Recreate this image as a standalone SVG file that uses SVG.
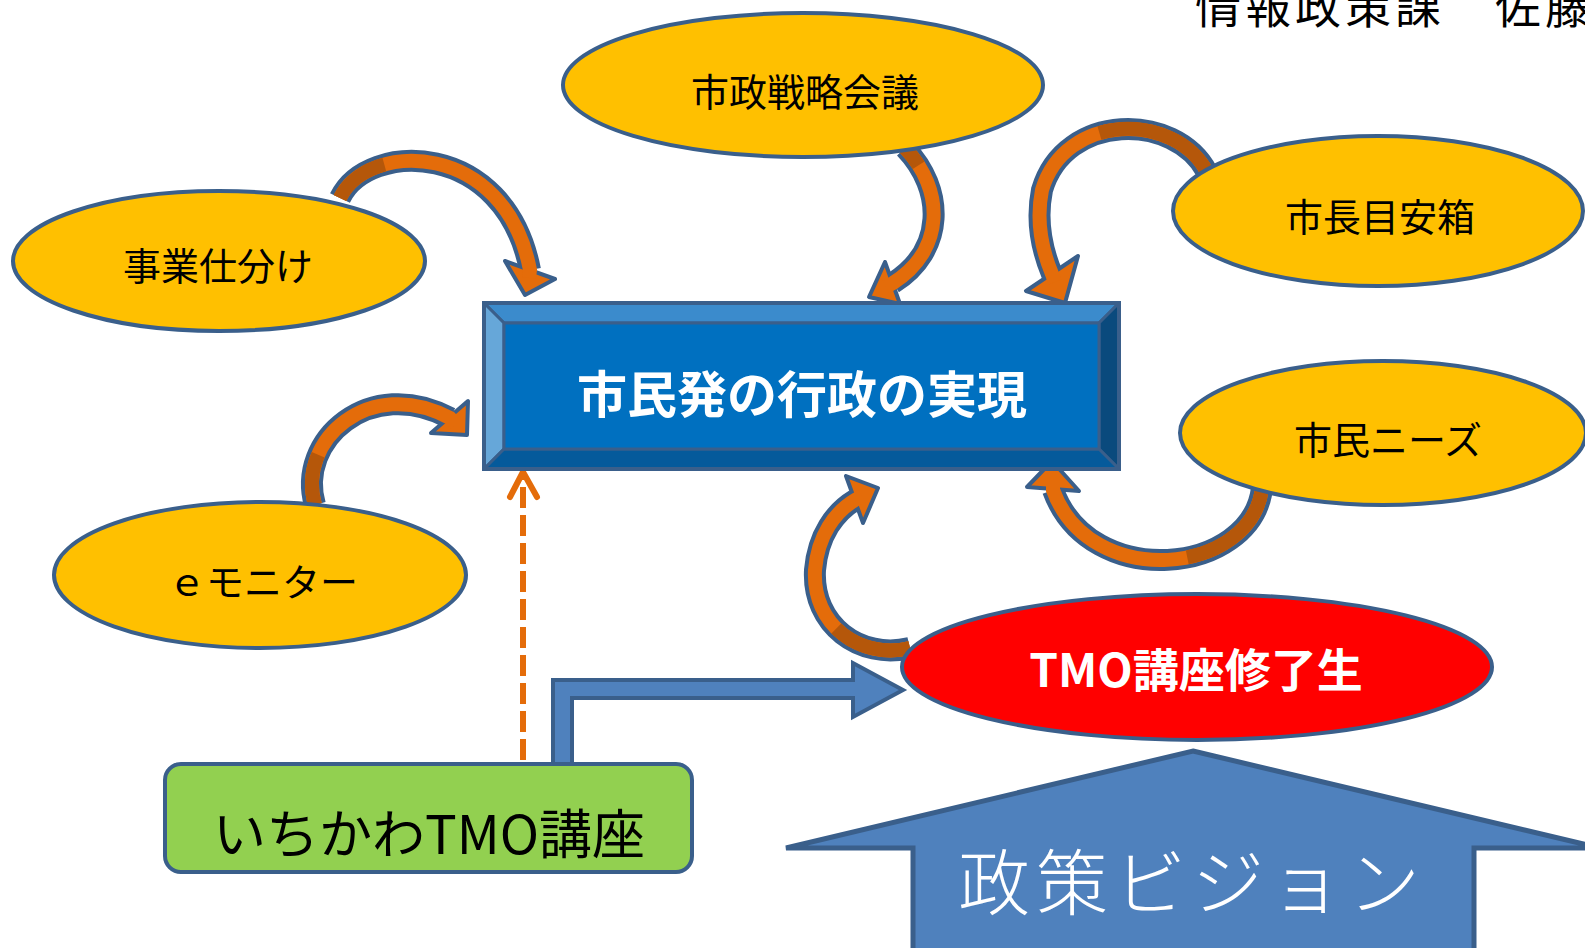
<svg xmlns="http://www.w3.org/2000/svg" width="1585" height="948" viewBox="0 0 1585 948">
<defs>
<style>
.ell{fill:#FFC000;stroke:#3A5F8B;stroke-width:4}
.lbl{font-family:"Noto Sans CJK JP","Noto Sans",sans-serif;font-size:38px;fill:#000;text-anchor:middle;dominant-baseline:central}
.ol{fill:none;stroke:#3A5F8B;stroke-width:22}
.lt{fill:none;stroke:#E46C0A;stroke-width:14}
.dk{fill:none;stroke:#B5570A;stroke-width:14}
.hd{fill:#E46C0A;stroke:#3A5F8B;stroke-width:4;stroke-linejoin:round}
.bv{stroke:#3A5F8B;stroke-width:3;stroke-linejoin:round}
</style>
</defs>
<rect width="1585" height="948" fill="#fff"/>
<text x="1195" y="23" style="font-family:'Noto Sans CJK JP',sans-serif;font-size:46px;letter-spacing:4px" fill="#000">情報政策課　佐藤</text>

<g id="connectors">
  <!-- 事業仕分け -> box -->
  <path class="ol" d="M340 198 C368 140 505 140 530 270"/>
  <polygon class="hd" points="505,261 525,295 555,279"/>
  <path class="lt" d="M340 198 C368 140 505 140 530 270 L529 278"/>
  <path class="dk" pathLength="100" stroke-dasharray="22 200" d="M340 198 C368 140 505 140 530 270"/>

  <!-- 市政戦略会議 -> box -->
  <path class="ol" d="M905 148 C945 190 945 250 893 283"/>
  <polygon class="hd" points="885,262 869,297 900,304"/>
  <path class="lt" d="M905 148 C945 190 945 250 893 283 L886 287"/>
  <path class="dk" pathLength="100" stroke-dasharray="14 200" d="M905 148 C945 190 945 250 893 283"/>

  <!-- 市長目安箱 -> box -->
  <path class="ol" d="M1207 172 C1175 112 1065 112 1042 190 C1036 220 1042 250 1052 274"/>
  <polygon class="hd" points="1026,291 1065,303 1078,256"/>
  <path class="lt" d="M1207 172 C1175 112 1065 112 1042 190 C1036 220 1042 250 1052 274 L1055 282"/>
  <path class="dk" pathLength="100" stroke-dasharray="42 200" d="M1207 172 C1175 112 1065 112 1042 190 C1036 220 1042 250 1052 274"/>

  <!-- 市民ニーズ -> box -->
  <path class="ol" d="M1262 488 C1252 575 1090 592 1053 490"/>
  <polygon class="hd" points="1027,487 1052,461 1079,491"/>
  <path class="lt" d="M1262 488 C1252 575 1090 592 1053 490 L1053 482"/>
  <path class="dk" pathLength="100" stroke-dasharray="40 200" d="M1262 488 C1252 575 1090 592 1053 490"/>

  <!-- TMO講座修了生 -> box -->
  <path class="ol" d="M910 648 C860 660 812 625 815 570 C818 535 835 512 855 500"/>
  <polygon class="hd" points="846,476 878,488 863,523"/>
  <path class="lt" d="M910 648 C860 660 812 625 815 570 C818 535 835 512 855 500 L862 496"/>
  <path class="dk" pathLength="100" stroke-dasharray="35 200" d="M910 648 C860 660 812 625 815 570 C818 535 835 512 855 500"/>

  <!-- eモニター -> box -->
  <path class="ol" d="M315 505 C296 440 370 375 450 418"/>
  <polygon class="hd" points="468,401 467,435 431,433"/>
  <path class="lt" d="M315 505 C296 440 370 375 450 418 L456 424"/>
  <path class="dk" pathLength="100" stroke-dasharray="25 200" d="M315 505 C296 440 370 375 450 418"/>

  <!-- dashed: いちかわTMO講座 -> box -->
  <line x1="523" y1="760" x2="523" y2="476" stroke="#E46C0A" stroke-width="6" stroke-dasharray="21 7"/>
  <polyline points="510,497 523,472 537,497" fill="none" stroke="#E46C0A" stroke-width="6" stroke-linecap="round" stroke-linejoin="round"/>

  <!-- elbow: いちかわTMO講座 -> TMO講座修了生 -->
  <polygon points="553,772 553,680 853,680 853,663 903,690 853,717 853,698 572,698 572,772" fill="#4F81BD" stroke="#3A5F8B" stroke-width="4" stroke-linejoin="miter"/>
</g>

<g id="node-jigyo">
  <ellipse class="ell" cx="219" cy="261" rx="206" ry="70"/>
  <text class="lbl" x="218" y="263">事業仕分け</text>
</g>
<g id="node-shisei">
  <ellipse class="ell" cx="803" cy="85" rx="240" ry="72"/>
  <text class="lbl" x="805" y="89">市政戦略会議</text>
</g>
<g id="node-meyasu">
  <ellipse class="ell" cx="1378" cy="211" rx="205" ry="75"/>
  <text class="lbl" x="1380" y="214">市長目安箱</text>
</g>
<g id="node-needs">
  <ellipse class="ell" cx="1383" cy="433" rx="203" ry="72"/>
  <text class="lbl" x="1388" y="437">市民ニーズ</text>
</g>
<g id="node-emonitor">
  <ellipse class="ell" cx="260" cy="575" rx="206" ry="73"/>
  <text class="lbl" x="263" y="579">ｅモニター</text>
</g>

<g id="node-main">
  <rect x="484" y="303" width="635" height="166" fill="#0070C0"/>
  <polygon class="bv" points="484,303 1119,303 1099,323 504,323" fill="#3B8BCC"/>
  <polygon class="bv" points="484,303 504,323 504,449 484,469" fill="#66A7D9"/>
  <polygon class="bv" points="1119,303 1119,469 1099,449 1099,323" fill="#0A4A7D"/>
  <polygon class="bv" points="484,469 504,449 1099,449 1119,469" fill="#055A9B"/>
  <rect x="504" y="323" width="595" height="126" fill="#0070C0" stroke="#3A5F8B" stroke-width="3"/>
  <rect x="484" y="303" width="635" height="166" fill="none" stroke="#3A5F8B" stroke-width="4"/>
  <text x="802" y="391" style="font-family:'Noto Sans CJK JP',sans-serif;font-size:50px;font-weight:bold" fill="#fff" text-anchor="middle" dominant-baseline="central">市民発の行政の実現</text>
</g>

<g id="node-tmo">
  <ellipse cx="1197" cy="667" rx="295" ry="73" fill="#FF0000" stroke="#3A5F8B" stroke-width="4"/>
  <text x="1196" y="667" style="font-family:'Noto Sans CJK JP',sans-serif;font-size:46px;font-weight:bold" fill="#fff" text-anchor="middle" dominant-baseline="central">TMO講座修了生</text>
</g>

<g id="node-ichikawa">
  <rect x="165" y="764" width="527" height="108" rx="16" fill="#92D050" stroke="#3A5F8B" stroke-width="4"/>
  <text x="429" y="831" style="font-family:'Noto Sans CJK JP',sans-serif;font-size:53px" fill="#000" text-anchor="middle" dominant-baseline="central">いちかわTMO講座</text>
</g>

<g id="node-vision">
  <polygon points="1193,751 1600,848 1474,848 1474,960 913,960 913,848 786,848" fill="#4F81BD" stroke="#3A5F8B" stroke-width="5" stroke-linejoin="miter"/>
  <text x="1192" y="877" style="font-family:'Noto Sans CJK JP',sans-serif;font-size:72px;font-weight:300;letter-spacing:6px" fill="#fff" text-anchor="middle" dominant-baseline="central">政策ビジョン</text>
</g>
</svg>
